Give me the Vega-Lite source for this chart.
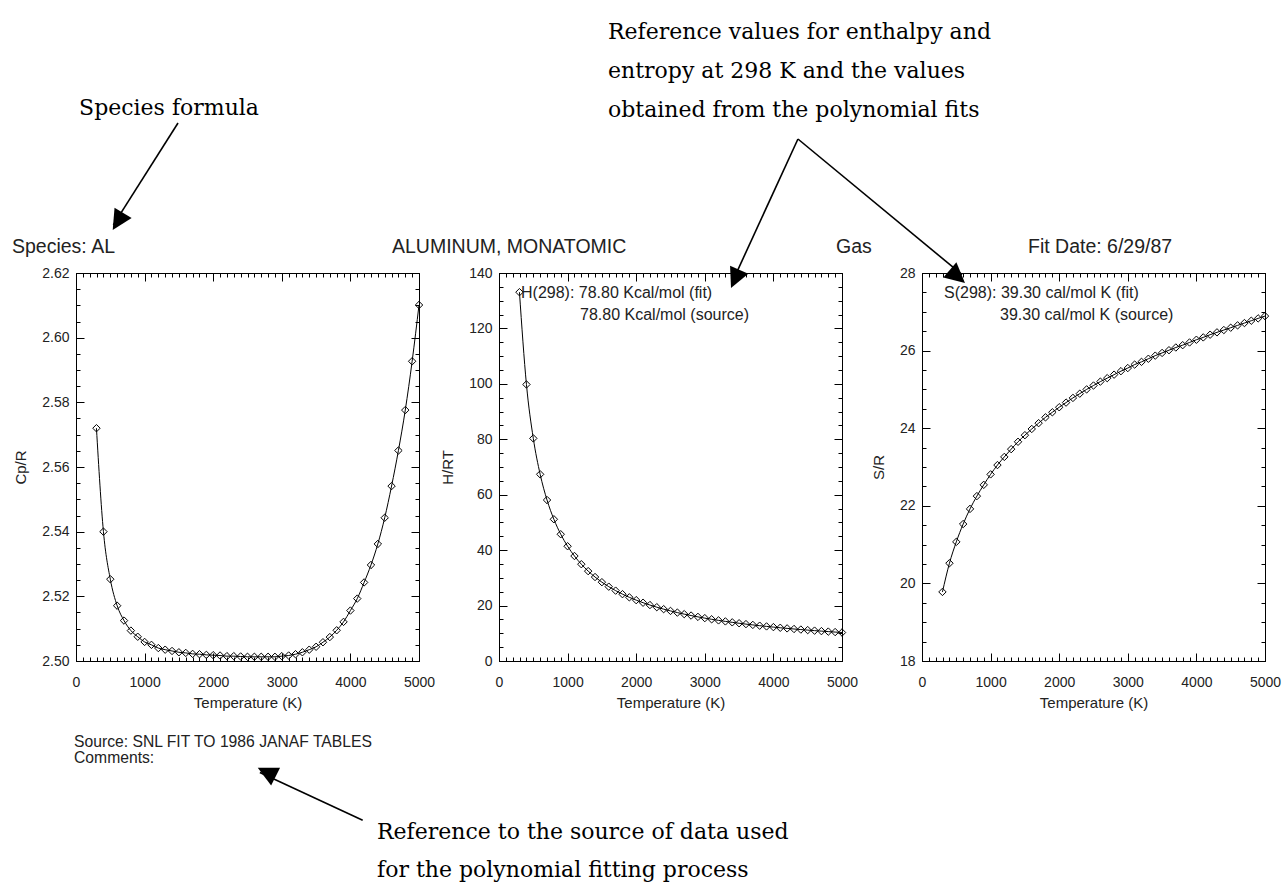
{
  "$schema": "https://vega.github.io/schema/vega-lite/v6.json",
  "autosize": {"type": "pad"},
  "padding": {"left": 11, "top": 20, "right": 5, "bottom": 5},
  "background": "white",
  "config": {
    "view": {"stroke": "black", "strokeWidth": 1},
    "axis": {"grid": false, "domain": false, "labelFont": "Liberation Sans", "labelFontSize": 14, "labelColor": "#222", "titleFont": "Liberation Sans", "titleFontSize": 15, "titleFontWeight": "normal", "titleColor": "#222", "tickColor": "black", "tickWidth": 1, "labelFlush": false, "labelOverlap": false},
    "text": {"font": "Liberation Sans", "color": "#222", "align": "left", "baseline": "alphabetic"}
  },
  "spacing": 80,
  "bounds": "flush",
  "datasets": {
    "cp": [
      {"T": 298, "v": 2.572}, {"T": 400, "v": 2.540}, {"T": 500, "v": 2.5253}, {"T": 600, "v": 2.5171}, {"T": 700, "v": 2.5125},
      {"T": 800, "v": 2.5094}, {"T": 900, "v": 2.5075}, {"T": 1000, "v": 2.5059}, {"T": 1100, "v": 2.5050}, {"T": 1200, "v": 2.5040},
      {"T": 1300, "v": 2.5035}, {"T": 1400, "v": 2.5031}, {"T": 1500, "v": 2.5027}, {"T": 1600, "v": 2.5025}, {"T": 1700, "v": 2.5022},
      {"T": 1800, "v": 2.5021}, {"T": 1900, "v": 2.5019}, {"T": 2000, "v": 2.5018}, {"T": 2100, "v": 2.5017}, {"T": 2200, "v": 2.5015},
      {"T": 2300, "v": 2.5015}, {"T": 2400, "v": 2.5014}, {"T": 2500, "v": 2.5013}, {"T": 2600, "v": 2.5013}, {"T": 2700, "v": 2.5013},
      {"T": 2800, "v": 2.5013}, {"T": 2900, "v": 2.5013}, {"T": 3000, "v": 2.5015}, {"T": 3100, "v": 2.5017}, {"T": 3200, "v": 2.5021},
      {"T": 3300, "v": 2.5027}, {"T": 3400, "v": 2.5035}, {"T": 3500, "v": 2.5044}, {"T": 3600, "v": 2.5058}, {"T": 3700, "v": 2.5074},
      {"T": 3800, "v": 2.5095}, {"T": 3900, "v": 2.5121}, {"T": 4000, "v": 2.5156}, {"T": 4100, "v": 2.5193}, {"T": 4200, "v": 2.5243},
      {"T": 4300, "v": 2.5297}, {"T": 4400, "v": 2.5362}, {"T": 4500, "v": 2.5443}, {"T": 4600, "v": 2.5541}, {"T": 4700, "v": 2.5651},
      {"T": 4800, "v": 2.5776}, {"T": 4900, "v": 2.5927}, {"T": 5000, "v": 2.6101}
    ],
    "h": [
      {"T": 298, "v": 133.08}, {"T": 400, "v": 99.78}, {"T": 500, "v": 80.33}, {"T": 600, "v": 67.36}, {"T": 700, "v": 58.09},
      {"T": 800, "v": 51.14}, {"T": 900, "v": 45.74}, {"T": 1000, "v": 41.41}, {"T": 1100, "v": 37.88}, {"T": 1200, "v": 34.93},
      {"T": 1300, "v": 32.43}, {"T": 1400, "v": 30.30}, {"T": 1500, "v": 28.44}, {"T": 1600, "v": 26.82}, {"T": 1700, "v": 25.39},
      {"T": 1800, "v": 24.12}, {"T": 1900, "v": 22.98}, {"T": 2000, "v": 21.96}, {"T": 2100, "v": 21.03}, {"T": 2200, "v": 20.19},
      {"T": 2300, "v": 19.42}, {"T": 2400, "v": 18.71}, {"T": 2500, "v": 18.07}, {"T": 2600, "v": 17.47}, {"T": 2700, "v": 16.91},
      {"T": 2800, "v": 16.40}, {"T": 2900, "v": 15.92}, {"T": 3000, "v": 15.47}, {"T": 3100, "v": 15.05}, {"T": 3200, "v": 14.66},
      {"T": 3300, "v": 14.29}, {"T": 3400, "v": 13.95}, {"T": 3500, "v": 13.62}, {"T": 3600, "v": 13.31}, {"T": 3700, "v": 13.02},
      {"T": 3800, "v": 12.74}, {"T": 3900, "v": 12.48}, {"T": 4000, "v": 12.23}, {"T": 4100, "v": 11.99}, {"T": 4200, "v": 11.77},
      {"T": 4300, "v": 11.55}, {"T": 4400, "v": 11.34}, {"T": 4500, "v": 11.15}, {"T": 4600, "v": 10.96}, {"T": 4700, "v": 10.78},
      {"T": 4800, "v": 10.61}, {"T": 4900, "v": 10.44}, {"T": 5000, "v": 10.28}
    ],
    "s": [
      {"T": 298, "v": 19.78}, {"T": 400, "v": 20.52}, {"T": 500, "v": 21.07}, {"T": 600, "v": 21.53}, {"T": 700, "v": 21.92},
      {"T": 800, "v": 22.25}, {"T": 900, "v": 22.54}, {"T": 1000, "v": 22.81}, {"T": 1100, "v": 23.05}, {"T": 1200, "v": 23.26},
      {"T": 1300, "v": 23.46}, {"T": 1400, "v": 23.65}, {"T": 1500, "v": 23.82}, {"T": 1600, "v": 23.98}, {"T": 1700, "v": 24.13},
      {"T": 1800, "v": 24.28}, {"T": 1900, "v": 24.41}, {"T": 2000, "v": 24.54}, {"T": 2100, "v": 24.66}, {"T": 2200, "v": 24.78},
      {"T": 2300, "v": 24.89}, {"T": 2400, "v": 25.00}, {"T": 2500, "v": 25.10}, {"T": 2600, "v": 25.20}, {"T": 2700, "v": 25.29},
      {"T": 2800, "v": 25.38}, {"T": 2900, "v": 25.47}, {"T": 3000, "v": 25.55}, {"T": 3100, "v": 25.64}, {"T": 3200, "v": 25.71},
      {"T": 3300, "v": 25.79}, {"T": 3400, "v": 25.87}, {"T": 3500, "v": 25.94}, {"T": 3600, "v": 26.01}, {"T": 3700, "v": 26.08},
      {"T": 3800, "v": 26.14}, {"T": 3900, "v": 26.21}, {"T": 4000, "v": 26.28}, {"T": 4100, "v": 26.34}, {"T": 4200, "v": 26.41},
      {"T": 4300, "v": 26.47}, {"T": 4400, "v": 26.53}, {"T": 4500, "v": 26.59}, {"T": 4600, "v": 26.65}, {"T": 4700, "v": 26.71},
      {"T": 4800, "v": 26.77}, {"T": 4900, "v": 26.83}, {"T": 5000, "v": 26.89}
    ]
  },
  "hconcat": [
    {
      "width": 343, "height": 388,
      "resolve": {"axis": {"x": "independent", "y": "independent"}},
      "layer": [
        {
          "data": {"name": "cp"},
          "mark": {"type": "line", "color": "black", "strokeWidth": 1, "interpolate": "monotone"},
          "encoding": {
            "x": {"field": "T", "type": "quantitative", "scale": {"domain": [0, 5000], "nice": false, "zero": false},
                  "axis": {"orient": "bottom", "values": [0, 1000, 2000, 3000, 4000, 5000], "format": "d", "tickSize": -8, "labelPadding": 22, "title": "Temperature (K)", "titlePadding": 6}},
            "y": {"field": "v", "type": "quantitative", "scale": {"domain": [2.5, 2.62], "nice": false, "zero": false},
                  "axis": {"orient": "left", "values": [2.5, 2.52, 2.54, 2.56, 2.58, 2.6, 2.62], "format": ".2f", "tickSize": -8, "labelPadding": 15, "title": "Cp/R", "titlePadding": 13}}
          }
        },
        {
          "data": {"name": "cp"},
          "mark": {"type": "point", "shape": "diamond", "size": 55, "filled": false, "color": "black", "strokeWidth": 1, "opacity": 1},
          "encoding": {
            "x": {"field": "T", "type": "quantitative", "scale": {"domain": [0, 5000], "nice": false, "zero": false},
                  "axis": {"orient": "bottom", "values": [0,100,200,300,400,500,600,700,800,900,1000,1100,1200,1300,1400,1500,1600,1700,1800,1900,2000,2100,2200,2300,2400,2500,2600,2700,2800,2900,3000,3100,3200,3300,3400,3500,3600,3700,3800,3900,4000,4100,4200,4300,4400,4500,4600,4700,4800,4900,5000], "tickSize": -4, "labels": false, "title": null}},
            "y": {"field": "v", "type": "quantitative", "scale": {"domain": [2.5, 2.62], "nice": false, "zero": false},
                  "axis": {"orient": "left", "values": [2.5,2.505,2.51,2.515,2.52,2.525,2.53,2.535,2.54,2.545,2.55,2.555,2.56,2.565,2.57,2.575,2.58,2.585,2.59,2.595,2.6,2.605,2.61,2.615,2.62], "tickSize": -4, "labels": false, "title": null}}
          }
        },
        {
          "data": {"values": [{"x": -933, "y": 2.62619, "t": "Species: AL"}, {"x": 4606, "y": 2.62619, "t": "ALUMINUM, MONATOMIC"}]},
          "mark": {"type": "text", "fontSize": 19.5},
          "encoding": {
            "x": {"field": "x", "type": "quantitative", "scale": {"domain": [0, 5000], "nice": false, "zero": false},
                  "axis": {"orient": "top", "values": [0, 1000, 2000, 3000, 4000, 5000], "tickSize": -8, "labels": false, "title": null}},
            "y": {"field": "y", "type": "quantitative", "scale": {"domain": [2.5, 2.62], "nice": false, "zero": false},
                  "axis": {"orient": "right", "values": [2.5, 2.52, 2.54, 2.56, 2.58, 2.6, 2.62], "tickSize": -8, "labels": false, "title": null}},
            "text": {"field": "t"}
          }
        },
        {
          "data": {"values": [{"x": -29, "y": 2.4734, "t": "Source: SNL FIT TO 1986 JANAF TABLES"}, {"x": -29, "y": 2.4685, "t": "Comments:"}]},
          "mark": {"type": "text", "fontSize": 15.7},
          "encoding": {
            "x": {"field": "x", "type": "quantitative", "scale": {"domain": [0, 5000], "nice": false, "zero": false},
                  "axis": {"orient": "top", "values": [0,100,200,300,400,500,600,700,800,900,1000,1100,1200,1300,1400,1500,1600,1700,1800,1900,2000,2100,2200,2300,2400,2500,2600,2700,2800,2900,3000,3100,3200,3300,3400,3500,3600,3700,3800,3900,4000,4100,4200,4300,4400,4500,4600,4700,4800,4900,5000], "tickSize": -4, "labels": false, "title": null}},
            "y": {"field": "y", "type": "quantitative", "scale": {"domain": [2.5, 2.62], "nice": false, "zero": false},
                  "axis": {"orient": "right", "values": [2.5,2.505,2.51,2.515,2.52,2.525,2.53,2.535,2.54,2.545,2.55,2.555,2.56,2.565,2.57,2.575,2.58,2.585,2.59,2.595,2.6,2.605,2.61,2.615,2.62], "tickSize": -4, "labels": false, "title": null}},
            "text": {"field": "t"}
          }
        },
        {
          "data": {"values": [{"x": 1356, "y": 2.66887, "t": "Species formula"}]},
          "mark": {"type": "text", "font": "DejaVu Serif", "fontSize": 22, "color": "black", "align": "center"},
          "encoding": {
            "x": {"field": "x", "type": "quantitative", "scale": {"domain": [0, 5000], "nice": false, "zero": false}, "axis": null},
            "y": {"field": "y", "type": "quantitative", "scale": {"domain": [2.5, 2.62], "nice": false, "zero": false}, "axis": null},
            "text": {"field": "t"}
          }
        },
        {
          "data": {"values": [{"x": 4388, "y": 2.44495, "t": "Reference to the source of data used"}, {"x": 4388, "y": 2.43319, "t": "for the polynomial fitting process"}]},
          "mark": {"type": "text", "font": "DejaVu Serif", "fontSize": 22, "color": "black"},
          "encoding": {
            "x": {"field": "x", "type": "quantitative", "scale": {"domain": [0, 5000], "nice": false, "zero": false}, "axis": null},
            "y": {"field": "y", "type": "quantitative", "scale": {"domain": [2.5, 2.62], "nice": false, "zero": false}, "axis": null},
            "text": {"field": "t"}
          }
        },
        {
          "data": {"values": [{"x": 1487, "y": 2.66639, "x2": 545, "y2": 2.6349}, {"x": 4179, "y": 2.45073, "x2": 2680, "y2": 2.4655}]},
          "mark": {"type": "rule", "color": "black", "strokeWidth": 1.6},
          "encoding": {
            "x": {"field": "x", "type": "quantitative", "scale": {"domain": [0, 5000], "nice": false, "zero": false}, "axis": null},
            "y": {"field": "y", "type": "quantitative", "scale": {"domain": [2.5, 2.62], "nice": false, "zero": false}, "axis": null},
            "x2": {"field": "x2"},
            "y2": {"field": "y2"}
          }
        },
        {
          "data": {"values": [{"x": 535, "y": 2.6333}]},
          "mark": {"type": "point", "shape": "M0,0L0.5,1L-0.5,1Z", "size": 1600, "filled": true, "color": "black", "opacity": 1, "angle": 211.3},
          "encoding": {
            "x": {"field": "x", "type": "quantitative", "scale": {"domain": [0, 5000], "nice": false, "zero": false}, "axis": null},
            "y": {"field": "y", "type": "quantitative", "scale": {"domain": [2.5, 2.62], "nice": false, "zero": false}, "axis": null}
          }
        },
        {
          "data": {"values": [{"x": 2649, "y": 2.467}]},
          "mark": {"type": "point", "shape": "M0,0L0.5,1L-0.5,1Z", "size": 1600, "filled": true, "color": "black", "opacity": 1, "angle": 296.6},
          "encoding": {
            "x": {"field": "x", "type": "quantitative", "scale": {"domain": [0, 5000], "nice": false, "zero": false}, "axis": null},
            "y": {"field": "y", "type": "quantitative", "scale": {"domain": [2.5, 2.62], "nice": false, "zero": false}, "axis": null}
          }
        }
      ]
    },
    {
      "width": 343, "height": 388,
      "resolve": {"axis": {"x": "independent", "y": "independent"}},
      "layer": [
        {
          "data": {"name": "h"},
          "mark": {"type": "line", "color": "black", "strokeWidth": 1, "interpolate": "monotone"},
          "encoding": {
            "x": {"field": "T", "type": "quantitative", "scale": {"domain": [0, 5000], "nice": false, "zero": false},
                  "axis": {"orient": "bottom", "values": [0, 1000, 2000, 3000, 4000, 5000], "format": "d", "tickSize": -8, "labelPadding": 22, "title": "Temperature (K)", "titlePadding": 6}},
            "y": {"field": "v", "type": "quantitative", "scale": {"domain": [0, 140], "nice": false, "zero": false},
                  "axis": {"orient": "left", "values": [0, 20, 40, 60, 80, 100, 120, 140], "format": "d", "tickSize": -8, "labelPadding": 15, "title": "H/RT", "titlePadding": 13}}
          }
        },
        {
          "data": {"name": "h"},
          "mark": {"type": "point", "shape": "diamond", "size": 55, "filled": false, "color": "black", "strokeWidth": 1, "opacity": 1},
          "encoding": {
            "x": {"field": "T", "type": "quantitative", "scale": {"domain": [0, 5000], "nice": false, "zero": false},
                  "axis": {"orient": "bottom", "values": [0,100,200,300,400,500,600,700,800,900,1000,1100,1200,1300,1400,1500,1600,1700,1800,1900,2000,2100,2200,2300,2400,2500,2600,2700,2800,2900,3000,3100,3200,3300,3400,3500,3600,3700,3800,3900,4000,4100,4200,4300,4400,4500,4600,4700,4800,4900,5000], "tickSize": -4, "labels": false, "title": null}},
            "y": {"field": "v", "type": "quantitative", "scale": {"domain": [0, 140], "nice": false, "zero": false},
                  "axis": {"orient": "left", "values": [0,5,10,15,20,25,30,35,40,45,50,55,60,65,70,75,80,85,90,95,100,105,110,115,120,125,130,135,140], "tickSize": -4, "labels": false, "title": null}}
          }
        },
        {
          "data": {"values": [{"x": 4912, "y": 147.216, "t": "Gas"}]},
          "mark": {"type": "text", "fontSize": 19.5},
          "encoding": {
            "x": {"field": "x", "type": "quantitative", "scale": {"domain": [0, 5000], "nice": false, "zero": false},
                  "axis": {"orient": "top", "values": [0, 1000, 2000, 3000, 4000, 5000], "tickSize": -8, "labels": false, "title": null}},
            "y": {"field": "y", "type": "quantitative", "scale": {"domain": [0, 140], "nice": false, "zero": false},
                  "axis": {"orient": "right", "values": [0, 20, 40, 60, 80, 100, 120, 140], "tickSize": -8, "labels": false, "title": null}},
            "text": {"field": "t"}
          }
        },
        {
          "data": {"values": [{"x": 321, "y": 130.98, "t": "H(298): 78.80 Kcal/mol (fit)"}, {"x": 1181, "y": 123.04, "t": "78.80 Kcal/mol (source)"}]},
          "mark": {"type": "text", "fontSize": 16},
          "encoding": {
            "x": {"field": "x", "type": "quantitative", "scale": {"domain": [0, 5000], "nice": false, "zero": false},
                  "axis": {"orient": "top", "values": [0,100,200,300,400,500,600,700,800,900,1000,1100,1200,1300,1400,1500,1600,1700,1800,1900,2000,2100,2200,2300,2400,2500,2600,2700,2800,2900,3000,3100,3200,3300,3400,3500,3600,3700,3800,3900,4000,4100,4200,4300,4400,4500,4600,4700,4800,4900,5000], "tickSize": -4, "labels": false, "title": null}},
            "y": {"field": "y", "type": "quantitative", "scale": {"domain": [0, 140], "nice": false, "zero": false},
                  "axis": {"orient": "right", "values": [0,5,10,15,20,25,30,35,40,45,50,55,60,65,70,75,80,85,90,95,100,105,110,115,120,125,130,135,140], "tickSize": -4, "labels": false, "title": null}},
            "text": {"field": "t"}
          }
        },
        {
          "data": {"values": [{"x": 1589, "y": 224.43, "t": "Reference values for enthalpy and"}, {"x": 1589, "y": 210.36, "t": "entropy at 298 K and the values"}, {"x": 1589, "y": 196.29, "t": "obtained from the polynomial fits"}]},
          "mark": {"type": "text", "font": "DejaVu Serif", "fontSize": 22, "color": "black"},
          "encoding": {
            "x": {"field": "x", "type": "quantitative", "scale": {"domain": [0, 5000], "nice": false, "zero": false}, "axis": null},
            "y": {"field": "y", "type": "quantitative", "scale": {"domain": [0, 140], "nice": false, "zero": false}, "axis": null},
            "text": {"field": "t"}
          }
        },
        {
          "data": {"values": [{"x": 4358, "y": 188.35, "x2": 3420, "y2": 137.8}, {"x": 4358, "y": 188.35, "x2": 6750, "y2": 139.4}]},
          "mark": {"type": "rule", "color": "black", "strokeWidth": 1.6},
          "encoding": {
            "x": {"field": "x", "type": "quantitative", "scale": {"domain": [0, 5000], "nice": false, "zero": false}, "axis": null},
            "y": {"field": "y", "type": "quantitative", "scale": {"domain": [0, 140], "nice": false, "zero": false}, "axis": null},
            "x2": {"field": "x2"},
            "y2": {"field": "y2"}
          }
        },
        {
          "data": {"values": [{"x": 3382, "y": 134.59}]},
          "mark": {"type": "point", "shape": "M0,0L0.5,1L-0.5,1Z", "size": 1600, "filled": true, "color": "black", "opacity": 1, "angle": 204.2},
          "encoding": {
            "x": {"field": "x", "type": "quantitative", "scale": {"domain": [0, 5000], "nice": false, "zero": false}, "axis": null},
            "y": {"field": "y", "type": "quantitative", "scale": {"domain": [0, 140], "nice": false, "zero": false}, "axis": null}
          }
        },
        {
          "data": {"values": [{"x": 6793, "y": 136.39}]},
          "mark": {"type": "point", "shape": "M0,0L0.5,1L-0.5,1Z", "size": 1600, "filled": true, "color": "black", "opacity": 1, "angle": 130.8},
          "encoding": {
            "x": {"field": "x", "type": "quantitative", "scale": {"domain": [0, 5000], "nice": false, "zero": false}, "axis": null},
            "y": {"field": "y", "type": "quantitative", "scale": {"domain": [0, 140], "nice": false, "zero": false}, "axis": null}
          }
        }
      ]
    },
    {
      "width": 343, "height": 388,
      "resolve": {"axis": {"x": "independent", "y": "independent"}},
      "layer": [
        {
          "data": {"name": "s"},
          "mark": {"type": "line", "color": "black", "strokeWidth": 1, "interpolate": "monotone"},
          "encoding": {
            "x": {"field": "T", "type": "quantitative", "scale": {"domain": [0, 5000], "nice": false, "zero": false},
                  "axis": {"orient": "bottom", "values": [0, 1000, 2000, 3000, 4000, 5000], "format": "d", "tickSize": -8, "labelPadding": 22, "title": "Temperature (K)", "titlePadding": 6}},
            "y": {"field": "v", "type": "quantitative", "scale": {"domain": [18, 28], "nice": false, "zero": false},
                  "axis": {"orient": "left", "values": [18, 20, 22, 24, 26, 28], "format": "d", "tickSize": -8, "labelPadding": 15, "title": "S/R", "titlePadding": 13}}
          }
        },
        {
          "data": {"name": "s"},
          "mark": {"type": "point", "shape": "diamond", "size": 55, "filled": false, "color": "black", "strokeWidth": 1, "opacity": 1},
          "encoding": {
            "x": {"field": "T", "type": "quantitative", "scale": {"domain": [0, 5000], "nice": false, "zero": false},
                  "axis": {"orient": "bottom", "values": [0,100,200,300,400,500,600,700,800,900,1000,1100,1200,1300,1400,1500,1600,1700,1800,1900,2000,2100,2200,2300,2400,2500,2600,2700,2800,2900,3000,3100,3200,3300,3400,3500,3600,3700,3800,3900,4000,4100,4200,4300,4400,4500,4600,4700,4800,4900,5000], "tickSize": -4, "labels": false, "title": null}},
            "y": {"field": "v", "type": "quantitative", "scale": {"domain": [18, 28], "nice": false, "zero": false},
                  "axis": {"orient": "left", "values": [18,18.5,19,19.5,20,20.5,21,21.5,22,22.5,23,23.5,24,24.5,25,25.5,26,26.5,27,27.5,28], "tickSize": -4, "labels": false, "title": null}}
          }
        },
        {
          "data": {"values": [{"x": 1545, "y": 28.5155, "t": "Fit Date: 6/29/87"}]},
          "mark": {"type": "text", "fontSize": 19.5},
          "encoding": {
            "x": {"field": "x", "type": "quantitative", "scale": {"domain": [0, 5000], "nice": false, "zero": false},
                  "axis": {"orient": "top", "values": [0, 1000, 2000, 3000, 4000, 5000], "tickSize": -8, "labels": false, "title": null}},
            "y": {"field": "y", "type": "quantitative", "scale": {"domain": [18, 28], "nice": false, "zero": false},
                  "axis": {"orient": "right", "values": [18, 20, 22, 24, 26, 28], "tickSize": -8, "labels": false, "title": null}},
            "text": {"field": "t"}
          }
        },
        {
          "data": {"values": [{"x": 321, "y": 27.3557, "t": "S(298): 39.30 cal/mol K (fit)"}, {"x": 1137, "y": 26.7887, "t": "39.30 cal/mol K (source)"}]},
          "mark": {"type": "text", "fontSize": 16},
          "encoding": {
            "x": {"field": "x", "type": "quantitative", "scale": {"domain": [0, 5000], "nice": false, "zero": false},
                  "axis": {"orient": "top", "values": [0,100,200,300,400,500,600,700,800,900,1000,1100,1200,1300,1400,1500,1600,1700,1800,1900,2000,2100,2200,2300,2400,2500,2600,2700,2800,2900,3000,3100,3200,3300,3400,3500,3600,3700,3800,3900,4000,4100,4200,4300,4400,4500,4600,4700,4800,4900,5000], "tickSize": -4, "labels": false, "title": null}},
            "y": {"field": "y", "type": "quantitative", "scale": {"domain": [18, 28], "nice": false, "zero": false},
                  "axis": {"orient": "right", "values": [18,18.5,19,19.5,20,20.5,21,21.5,22,22.5,23,23.5,24,24.5,25,25.5,26,26.5,27,27.5,28], "tickSize": -4, "labels": false, "title": null}},
            "text": {"field": "t"}
          }
        }
      ]
    }
  ]
}
